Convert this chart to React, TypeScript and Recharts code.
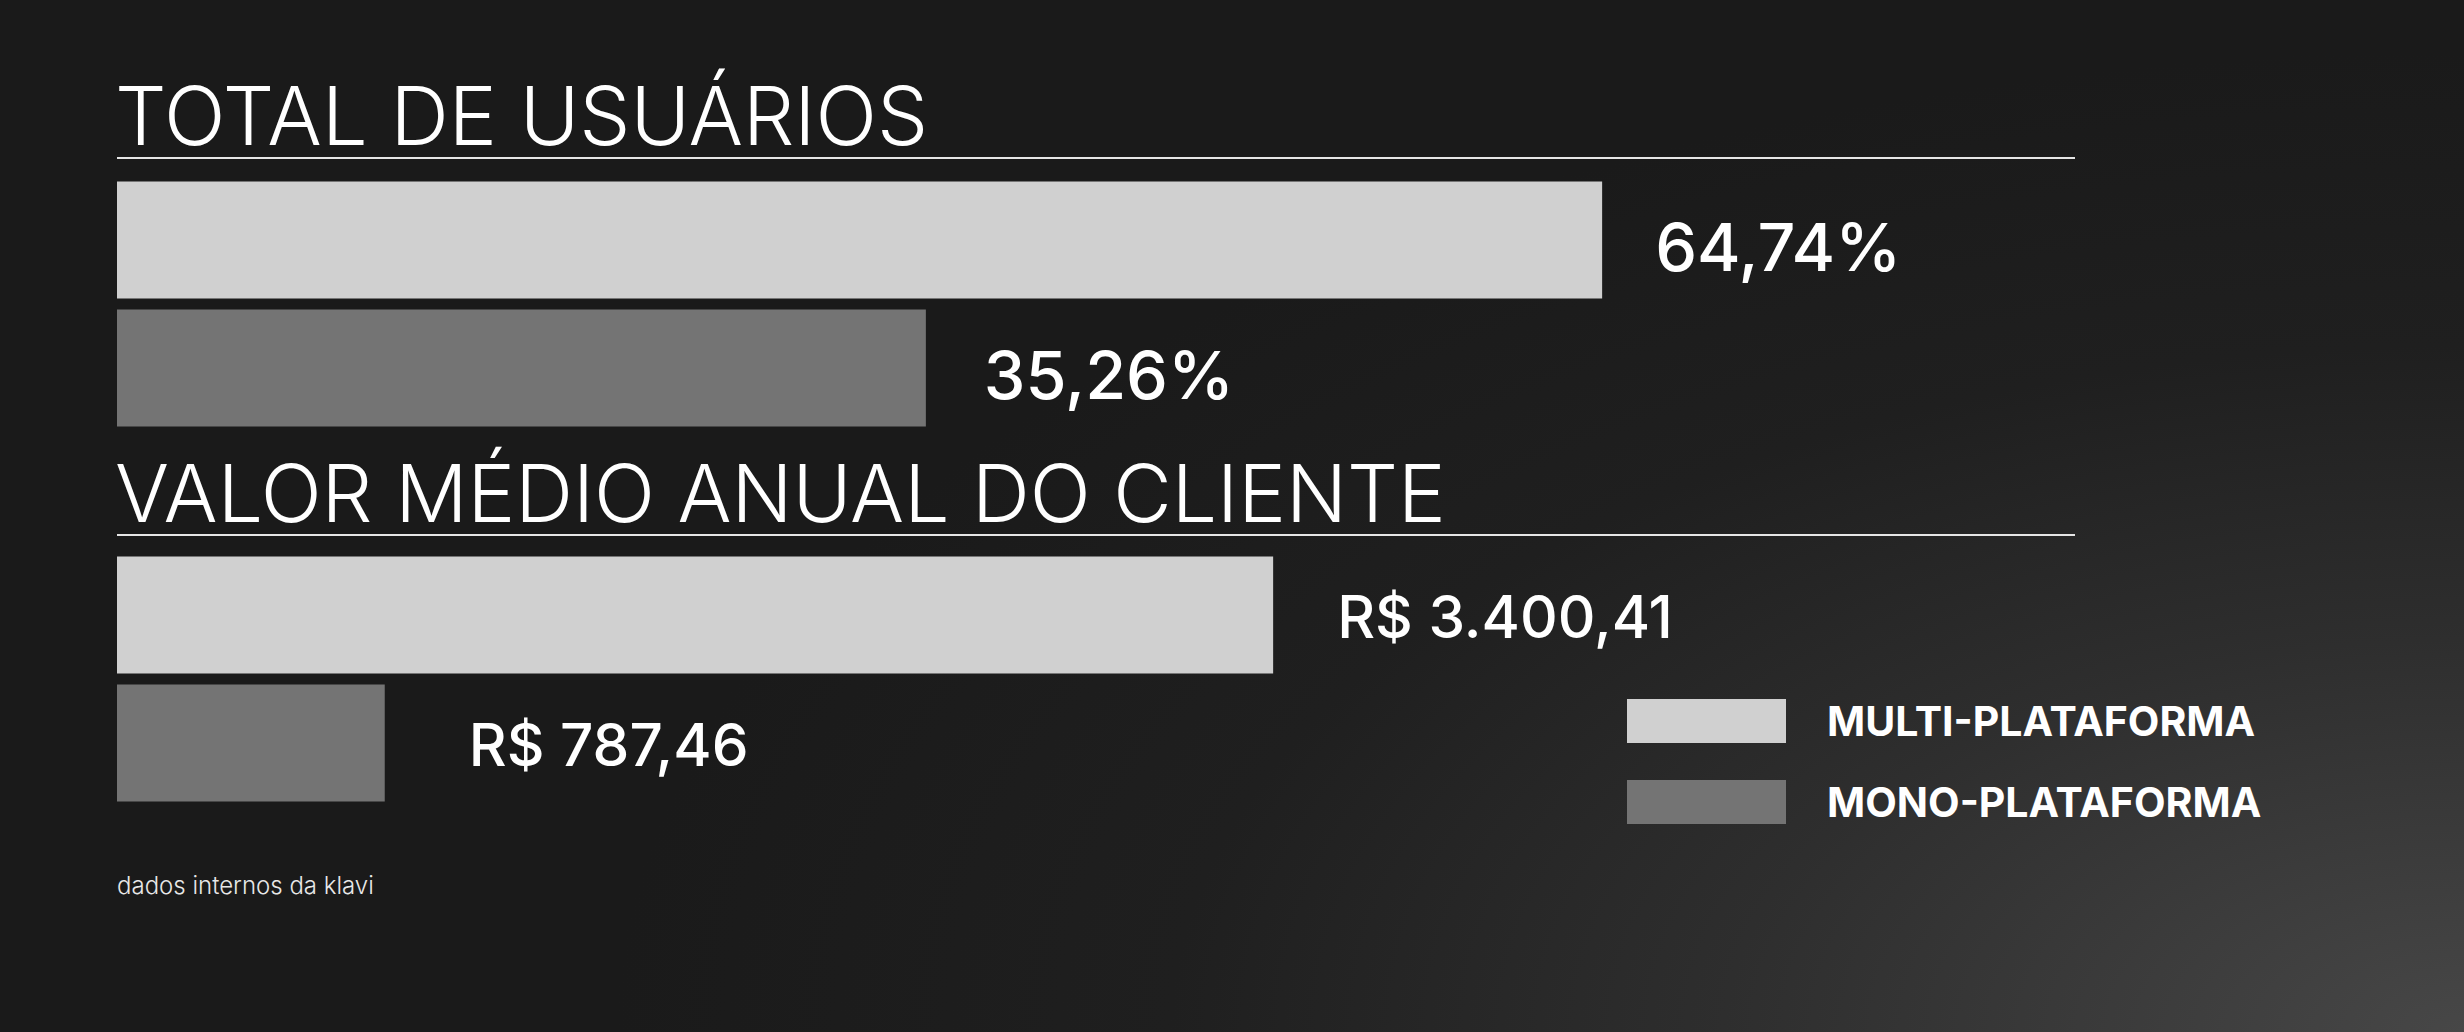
import { Bar, BarChart, LabelList, Legend, XAxis, YAxis } from 'recharts';

const categories = ['TOTAL DE USUÁRIOS', 'VALOR MÉDIO ANUAL DO CLIENTE'];
const seriesNames = ['MULTI-PLATAFORMA', 'MONO-PLATAFORMA'];
const multiValues = [64.74, 3400.41];
const monoValues = [35.26, 787.46];
const sourceNote = 'dados internos da klavi';

const MULTI_COLOR = '#d0d0d0';
const MONO_COLOR = '#747474';
const FONT = 'Inter, "Noto Sans", sans-serif';

const fmtNumber = (v: number) => {
  const [int, dec] = v.toFixed(2).split('.');
  return int.replace(/\B(?=(\d{3})+(?!\d))/g, '.') + ',' + dec;
};
const fmtPercent = (v: number) => fmtNumber(v) + '%';
const fmtMoney = (v: number) => 'R$ ' + fmtNumber(v);

const rowFor = (i: number) => [
  { name: categories[i], multi: multiValues[i], mono: monoValues[i] },
];

const makeLabel =
  (format: (v: number) => string, offset: number, shift: number, size: number) =>
  (props: any) => {
    const { x, y, width, height, value } = props;
    return (
      <text
        x={Number(x) + Number(width) + offset}
        y={Number(y) + Number(height) / 2 + shift}
        fill="#ffffff"
        fontFamily={FONT}
        fontWeight={500}
        fontSize={size}
      >
        {format(Number(value))}
      </text>
    );
  };

const LegendContent = (props: any) => {
  const items = [...(props.payload || [])].sort(
    (a: any, b: any) => seriesNames.indexOf(a.value) - seriesNames.indexOf(b.value),
  );
  return (
    <div style={{ display: 'flex', flexDirection: 'column', gap: 37 }}>
      {items.map((entry: any) => (
        <div key={entry.value} style={{ display: 'flex', alignItems: 'center', height: 44 }}>
          <span style={{ width: 159, height: 44, background: entry.color, display: 'block' }} />
          <span
            style={{
              marginLeft: 41,
              fontFamily: FONT,
              fontWeight: 700,
              fontSize: 41,
              color: '#ffffff',
              whiteSpace: 'nowrap',
            }}
          >
            {entry.value}
          </span>
        </div>
      ))}
    </div>
  );
};

const Section = ({
  index,
  top,
  width,
  height,
  domainMax,
  format,
  offsets,
  labelShift,
  labelSize,
  withLegend,
}: any) => (
  <div style={{ position: 'absolute', left: 0, top: 0 }}>
    <BarChart
      width={width}
      height={height}
      data={rowFor(index)}
      layout="vertical"
      barSize={117}
      barGap={11}
      margin={{ top, right: 0, bottom: height - top - 255, left: 117 }}
    >
      <XAxis type="number" domain={[0, domainMax]} hide />
      <YAxis type="category" dataKey="name" hide />
      {withLegend && (
        <Legend
          layout="horizontal"
          verticalAlign="middle"
          align="center"
          content={<LegendContent />}
          wrapperStyle={{ position: 'absolute', left: 1627, top: 699, width: 720 }}
        />
      )}
      <Bar dataKey="multi" name={seriesNames[0]} fill={MULTI_COLOR} isAnimationActive={false}>
        <LabelList dataKey="multi" content={makeLabel(format, offsets[0], labelShift, labelSize)} />
      </Bar>
      <Bar dataKey="mono" name={seriesNames[1]} fill={MONO_COLOR} isAnimationActive={false}>
        <LabelList dataKey="mono" content={makeLabel(format, offsets[1], labelShift, labelSize)} />
      </Bar>
    </BarChart>
  </div>
);

export default function App() {
  return (
    <div
      style={{
        position: 'absolute',
        left: 0,
        top: 0,
        width: 2464,
        height: 1032,
        overflow: 'hidden',
        background:
          'radial-gradient(ellipse 75% 95% at 100% 100%, #474747 0%, #2e2e2e 40%, #1f1f1f 70%, #1a1a1a 100%)',
      }}
    >
      <svg
        width={2464}
        height={1032}
        style={{ position: 'absolute', left: 0, top: 0 }}
      >
        <text x={115} y={145} fill="#ffffff" fontFamily={FONT} fontWeight={300} fontSize={81}>
          {categories[0]}
        </text>
        <line x1={117} x2={2075} y1={158} y2={158} stroke="#e6e6e6" strokeWidth={2} />
        <text x={115} y={522} fill="#ffffff" fontFamily={FONT} fontWeight={300} fontSize={80.3}>
          {categories[1]}
        </text>
        <line x1={117} x2={2075} y1={535} y2={535} stroke="#e6e6e6" strokeWidth={2} />
        <text x={117} y={894} fill="#e8e8e8" fontFamily={FONT} fontWeight={300} fontSize={24}>
          {sourceNote}
        </text>
      </svg>
      <Section
        index={0}
        top={176.5}
        width={2411}
        height={460}
        domainMax={100}
        format={fmtPercent}
        offsets={[53, 58]}
        labelShift={31}
        labelSize={66.5}
      />
      <Section
        index={1}
        top={551.5}
        width={2157}
        height={840}
        domainMax={6000}
        format={fmtMoney}
        offsets={[64, 84]}
        labelShift={23}
        labelSize={58.5}
        withLegend
      />
    </div>
  );
}
